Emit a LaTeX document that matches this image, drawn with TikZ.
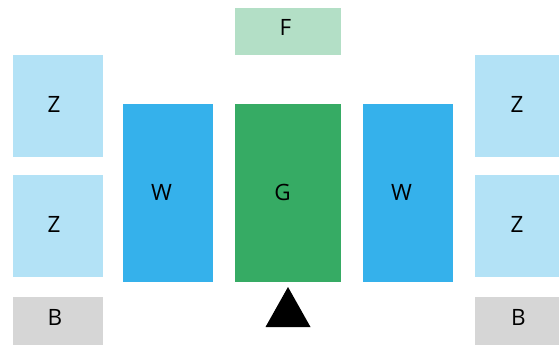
\documentclass[tikz,border=0pt]{standalone}
\usepackage{fontspec}
\setmainfont{Open Sans}
\definecolor{zlight}{HTML}{B3E2F6}
\definecolor{wblue}{HTML}{35B1EB}
\definecolor{ggreen}{HTML}{36AB64}
\definecolor{flight}{HTML}{B3DFC6}
\definecolor{bgray}{HTML}{D6D6D6}
\begin{document}
\begin{tikzpicture}[x=1pt,y=-1pt,
  box/.style={draw=none,inner sep=0pt},
  zbox/.style={box,fill=zlight,minimum width=90pt,minimum height=102pt},
  wbox/.style={box,fill=wblue,minimum width=90pt,minimum height=178pt},
  bbox/.style={box,fill=bgray,minimum width=90pt,minimum height=48pt},
  txt/.style={font=\fontsize{22.5}{26}\selectfont,inner sep=0pt}]
\useasboundingbox (0,0) rectangle (559,345);
\node[zbox,label={[txt,xshift=-4pt,yshift=1.5pt]center:Z}] (zl1) at (58,106) {};
\node[zbox,label={[txt,xshift=-4pt,yshift=1.5pt]center:Z}] (zl2) at (58,226) {};
\node[bbox,label={[txt,xshift=-3pt,yshift=3.5pt]center:B}] (bl) at (58,321) {};
\node[zbox,minimum width=84pt,label={[txt,yshift=1.5pt]center:Z}] (zr1) at (517,106) {};
\node[zbox,minimum width=84pt,label={[txt,yshift=1.5pt]center:Z}] (zr2) at (517,226) {};
\node[bbox,minimum width=84pt,label={[txt,xshift=1.5pt,yshift=3.5pt]center:B}] (br) at (517,321) {};
\node[wbox,label={[txt,xshift=-6.5pt,yshift=1pt]center:W}] (wl) at (168,193) {};
\node[wbox,label={[txt,xshift=-6.5pt,yshift=1pt]center:W}] (wr) at (408,193) {};
\node[box,fill=ggreen,minimum width=106pt,minimum height=178pt,label={[txt,xshift=-5.5pt,yshift=0.5pt]center:G}] (g) at (288,193) {};
\node[box,fill=flight,minimum width=106pt,minimum height=47pt,label={[txt,xshift=-2.5pt,yshift=4.5pt]center:F}] (f) at (288,31.5) {};
\fill[black] (288,287) -- (310.5,327) -- (265.5,327) -- cycle;
\end{tikzpicture}
\end{document}
